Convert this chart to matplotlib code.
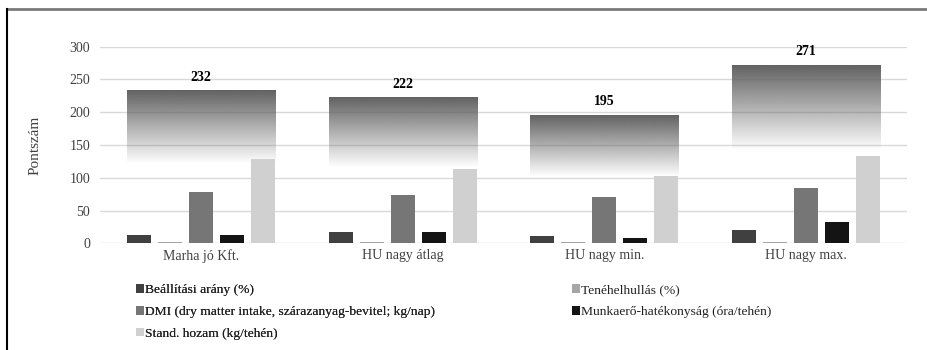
import matplotlib.pyplot as plt
import numpy as np
from matplotlib.lines import Line2D
from matplotlib.patches import Patch

plt.rcParams['font.family'] = ['Liberation Serif', 'DejaVu Serif']

# Farm groups and the five component scores
groups = ["Marha jó Kft.", "HU nagy átlag", "HU nagy min.", "HU nagy max."]
series = [
    "Beállítási arány (%)",
    "Tenéhelhullás (%)",
    "DMI (dry matter intake, szárazanyag-bevitel; kg/nap)",
    "Munkaerő-hatékonyság (óra/tehén)",
    "Stand. hozam (kg/tehén)",
]
beallitasi = [12, 17, 11, 20]
tenehelhullas = [2, 2, 2, 2]
dmi = [78, 73, 71, 84]
munkaero = [12, 17, 8, 32]
hozam = [128, 113, 103, 133]
totals = [232, 222, 195, 271]

values = [beallitasi, tenehelhullas, dmi, munkaero, hozam]
colors = ["#404040", "#a6a6a6", "#767676", "#141414", "#d0d0d0"]

fig = plt.figure(figsize=(9.28, 3.5), dpi=100)
ax = fig.add_axes([0.1078, 0.3049, 0.8696, 0.562])

x = np.arange(len(groups))
bar_w = 0.119
step = 0.1537
total_w = 0.735

# total score as a vertical gradient bar fading out towards the bottom
base = np.array([0x62, 0x62, 0x62]) / 255.0
for xi, t in zip(x, totals):
    frac = np.linspace(0, 1, 256)
    alpha = np.clip((frac - 0.52) / 0.48, 0, 1)
    img = np.zeros((256, 1, 4))
    img[:, 0, :3] = base
    img[:, 0, 3] = alpha
    ax.imshow(img, extent=[xi - total_w / 2, xi + total_w / 2, 0, t],
              origin='lower', aspect='auto', zorder=2, interpolation='bilinear')
    ax.text(xi, t + 11, str(t), ha='center', va='bottom', fontsize=10,
            fontweight='bold', color='black', zorder=5)

for i, (vals, c) in enumerate(zip(values, colors)):
    ax.bar(x + (i - 2) * step, vals, width=bar_w, color=c, zorder=3,
           label=series[i])

ax.set_xlim(-0.5, len(groups) - 0.5)
ax.set_ylim(0, 300)
ax.set_yticks(range(0, 301, 50))
ax.set_xticks(x)
ax.set_xticklabels(groups)
ax.yaxis.grid(True, color='#d9d9d9', linewidth=1, zorder=0)
ax.set_axisbelow(True)
for s in ax.spines.values():
    s.set_visible(False)
ax.tick_params(length=0, labelsize=10, colors='#404040')
ax.tick_params(axis='y', pad=7)
ax.tick_params(axis='x', pad=4)
ax.set_ylabel("Pontszám", fontsize=11, color='#404040', labelpad=20)

# legend laid out row by row in two columns
handles = [Patch(facecolor=c, edgecolor='none') for c in colors]
leg_kw = dict(frameon=False, prop={'family': 'Liberation Serif', 'size': 9.7},
              handlelength=0.6, handleheight=0.6, handletextpad=0.1,
              labelspacing=0.72, borderpad=0, labelcolor='#202020')
left = fig.legend([handles[0], handles[2], handles[4]],
                  [series[0], series[2], series[4]],
                  loc='upper left', bbox_to_anchor=(0.139, 0.207), **leg_kw)
fig.add_artist(left)
fig.legend([handles[1], handles[3]], [series[1], series[3]],
           loc='upper left', bbox_to_anchor=(0.609, 0.207), **leg_kw)

# page frame
fig.add_artist(Line2D([7 / 928, 1], [1 - 9 / 350, 1 - 9 / 350],
                      transform=fig.transFigure, color='#7a7a7a', linewidth=2))
fig.add_artist(Line2D([7 / 928, 7 / 928], [0, 1 - 9 / 350],
                      transform=fig.transFigure, color='black', linewidth=1.5))

fig.savefig("out.png", dpi=100)
